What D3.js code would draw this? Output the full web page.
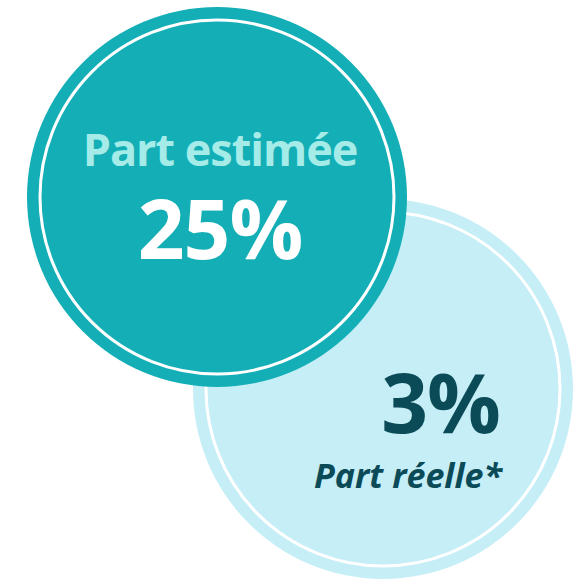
<!DOCTYPE html>
<html>
<head>
<meta charset="utf-8">
<script src="https://cdn.jsdelivr.net/npm/d3@7"></script>
<style>
  html, body { margin: 0; padding: 0; background: #fff; }
  svg { display: block; }
  text { font-family: "Open Sans", Lato, sans-serif; }
</style>
</head>
<body>
<svg id="chart" width="587" height="582"></svg>
<script>
// data
var categories = ["Part réelle*", "Part estimée"];
var values = [3, 25];
var labelFirst = [false, true]; // label above the value or below

var W = 587, H = 582;
var R = 190, RING_INSET = 13;

var svg = d3.select("#chart");

// circle centres along the diagonal
var xPos = d3.scalePoint().domain(["Part estimée", "Part réelle*"]).range([217, 383]);
var yPos = d3.scalePoint().domain(["Part estimée", "Part réelle*"]).range([197, 389]);

var fill = d3.scaleOrdinal().domain(["Part estimée", "Part réelle*"]).range(["#14afb6", "#c5eef7"]);
var valueColor = d3.scaleOrdinal().domain(["Part estimée", "Part réelle*"]).range(["#ffffff", "#0b4a57"]);
var labelColor = d3.scaleOrdinal().domain(["Part estimée", "Part réelle*"]).range(["#a5ebe8", "#0b4a57"]);

var data = categories.map(function(c, i){
	return {name: c, value: values[i], labelFirst: labelFirst[i]};
});

// light circle first so the teal one sits on top
var bubbles = svg.selectAll(".bubble")
	.data(data)
	.enter()
	.append("g")
	.classed("bubble", true)
	.attr("transform", function(d) {
		return "translate(" + xPos(d.name) + "," + yPos(d.name) + ")";
	});

bubbles.append("circle")
	.attr("r", R)
	.attr("fill", function(d){ return fill(d.name); });

// inner white ring
bubbles.append("circle")
	.attr("r", R - RING_INSET)
	.attr("fill", "none")
	.attr("stroke", "#ffffff")
	.attr("stroke-width", 3);

// estimated share: label on top, big value below, centred
var estGroup = bubbles.filter(function(d){ return d.labelFirst; });
estGroup.append("text")
	.attr("x", 3)
	.attr("y", -31)
	.attr("text-anchor", "middle")
	.attr("fill", function(d){ return labelColor(d.name); })
	.style("font-size", "45px")
	.style("font-weight", 700)
	.style("letter-spacing", "-1px")
	.text(function(d){ return d.name; });
estGroup.append("text")
	.attr("x", 3)
	.attr("y", 62)
	.attr("text-anchor", "middle")
	.attr("fill", function(d){ return valueColor(d.name); })
	.style("font-size", "82px")
	.style("font-weight", 700)
	.style("letter-spacing", "-1px")
	.text(function(d){ return d.value + "%"; });

// real share: value on top, italic label below, right aligned
var realGroup = bubbles.filter(function(d){ return !d.labelFirst; });
realGroup.append("text")
	.attr("x", 117)
	.attr("y", 44)
	.attr("text-anchor", "end")
	.attr("fill", function(d){ return valueColor(d.name); })
	.style("font-size", "82px")
	.style("font-weight", 700)
	.style("letter-spacing", "-1px")
	.text(function(d){ return d.value + "%"; });
realGroup.append("text")
	.attr("x", 119)
	.attr("y", 99)
	.attr("text-anchor", "end")
	.attr("fill", function(d){ return labelColor(d.name); })
	.style("font-size", "34px")
	.style("font-weight", 700)
	.style("font-style", "italic")
	.text(function(d){ return d.name; });
</script>
</body>
</html>
